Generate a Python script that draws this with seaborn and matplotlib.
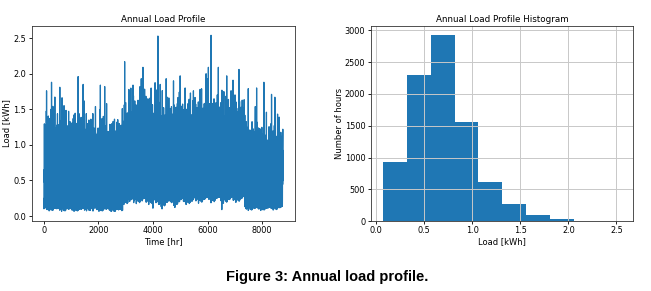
import numpy as np
import pandas as pd
import matplotlib
matplotlib.use("Agg")
import matplotlib.pyplot as plt
import seaborn as sns

# ---------------- data ----------------
# Left panel: hourly load built from envelope values read per time segment
seg_start = [0, 500, 1000, 1500, 2000, 2500, 2900, 3300, 3700, 4100, 4500, 5000,
             5500, 6000, 6500, 7000, 7350, 7800, 8300]
seg_low = [0.12, 0.11, 0.11, 0.12, 0.11, 0.10, 0.27, 0.29, 0.27, 0.22, 0.25, 0.27,
           0.30, 0.31, 0.30, 0.32, 0.13, 0.13, 0.14]
seg_high = [1.40, 1.42, 1.36, 1.34, 1.36, 1.36, 1.58, 1.64, 1.66, 1.60, 1.58, 1.60,
            1.64, 1.66, 1.64, 1.60, 1.28, 1.26, 1.22]
# typical shape of one day (0 = night minimum, 1 = evening peak)
day_shape = [0.12, 0.06, 0.03, 0.00, 0.03, 0.12, 0.32, 0.48, 0.42, 0.36, 0.34, 0.38,
             0.42, 0.40, 0.37, 0.42, 0.52, 0.68, 0.82, 1.00, 0.86, 0.64, 0.42, 0.24]
day_peak_factor = [0.82, 0.95, 0.70, 1.00, 0.86, 0.66, 0.93, 0.78, 0.98, 0.72, 0.90,
                   0.62, 0.88, 0.96, 0.75, 0.84, 1.00, 0.68, 0.92, 0.80, 0.97, 0.64,
                   0.87, 0.74, 0.94, 0.83, 0.70, 0.99, 0.79]
hour_jitter = [1.00, 0.86, 1.12, 0.95, 1.20, 0.84, 1.06, 0.92, 1.16, 0.88, 1.08,
               0.97, 1.22, 0.90, 1.03, 0.82, 1.13]
low_jitter = [1.00, 0.70, 1.20, 0.85, 1.35, 0.60, 1.10, 0.90, 1.25, 0.75, 1.05,
              0.65, 1.30, 0.95, 0.80, 1.15, 0.70, 1.20, 1.00]
# isolated peaks (hour, kWh)
spike_hours = [99, 281, 585, 1256, 1439, 2071, 2229, 2960, 3266, 3569, 3631, 4179,
               4263, 4482, 4750, 4994, 5176, 5480, 5724, 5944, 6028, 6126, 6393,
               6700, 7149, 7489, 7795, 8062, 8342, 8464, 8620]
spike_vals = [1.76, 1.88, 1.81, 1.96, 1.85, 1.84, 1.82, 2.17, 1.84, 1.93, 2.09, 2.53,
              1.85, 1.93, 1.90, 1.97, 1.80, 1.76, 1.78, 2.00, 2.09, 2.54, 2.09,
              1.97, 2.06, 1.79, 1.80, 1.88, 1.71, 1.67, 1.39]
# isolated low values (hour, kWh)
dip_hours = [1800, 2450, 3996, 4330, 4800, 6520, 8000]
dip_vals = [0.07, 0.07, 0.11, 0.10, 0.12, 0.09, 0.09]

# Right panel: histogram
bin_edges = [0.075, 0.3225, 0.57, 0.8175, 1.065, 1.3125, 1.56, 1.8075, 2.055,
             2.3025, 2.55]
bin_counts = [935, 2305, 2935, 1565, 615, 265, 100, 30, 7, 3]

# ---------------- build hourly series ----------------
n_hours = 8760
hours = np.arange(n_hours)
seg_idx = np.searchsorted(seg_start, hours, side="right") - 1
day = hours // 24
low = np.array(seg_low)[seg_idx] * np.array(low_jitter)[hours % len(low_jitter)]
high = np.array(seg_high)[seg_idx]
fac = np.array(day_peak_factor)[day % len(day_peak_factor)]
jit = np.array(hour_jitter)[hours % len(hour_jitter)]
shape = np.array(day_shape)[hours % 24]
load = low + shape * (high - low) * fac * jit
load[spike_hours] = spike_vals
load[dip_hours] = dip_vals
df = pd.DataFrame({"Time [hr]": hours, "Load [kWh]": load})

centers = [(bin_edges[i] + bin_edges[i + 1]) / 2 for i in range(len(bin_counts))]
hist_df = pd.DataFrame({"load": centers, "hours": bin_counts})

# ---------------- style ----------------
plt.rcParams.update({
    "font.family": ["DejaVu Sans"],
    "font.size": 6.0,
    "axes.linewidth": 0.6,
    "axes.edgecolor": "#333333",
    "xtick.major.width": 0.6,
    "ytick.major.width": 0.6,
    "xtick.major.size": 2.4,
    "ytick.major.size": 2.4,
    "xtick.major.pad": 1.2,
    "ytick.major.pad": 1.8,
    "axes.titlepad": 2.8,
})

fig = plt.figure(figsize=(6.51, 2.91), dpi=100)
ax1 = fig.add_axes([0.049, 0.2405, 0.404, 0.670])
ax2 = fig.add_axes([0.570, 0.2405, 0.402, 0.670])

blue = "#1f77b4"
sns.lineplot(data=df, x="Time [hr]", y="Load [kWh]", ax=ax1, color=blue,
             linewidth=0.9, estimator=None)
ax1.set_title("Annual Load Profile", fontsize=6.3)
ax1.set_xlabel("Time [hr]", fontsize=6.0)
ax1.set_ylabel("Load [kWh]", fontsize=6.0)
ax1.set_xticks([0, 2000, 4000, 6000, 8000])
ax1.set_yticks([0.0, 0.5, 1.0, 1.5, 2.0, 2.5])
ax1.set_xlim(-438, 9198)
ax1.set_ylim(-0.07, 2.67)
ax1.tick_params(labelsize=5.9)
ax1.yaxis.set_label_coords(-0.08, 0.5)
ax1.xaxis.set_label_coords(0.5, -0.085)

sns.histplot(data=hist_df, x="load", weights="hours", bins=bin_edges, ax=ax2,
             color=blue, alpha=1.0, edgecolor="none", linewidth=0)
ax2.grid(True, color="#c8c8c8", linewidth=0.7)
ax2.set_title("Annual Load Profile Histogram", fontsize=6.3)
ax2.set_xlabel("Load [kWh]", fontsize=6.0)
ax2.set_ylabel("Number of hours", fontsize=6.0)
ax2.set_xticks([0.0, 0.5, 1.0, 1.5, 2.0, 2.5])
ax2.set_yticks([0, 500, 1000, 1500, 2000, 2500, 3000])
ax2.set_xlim(-0.05, 2.67)
ax2.set_ylim(0, 3070)
ax2.tick_params(labelsize=5.9)
ax2.yaxis.set_label_coords(-0.103, 0.5)
ax2.xaxis.set_label_coords(0.5, -0.085)

fig.text(0.502, 0.048, "Figure 3: Annual load profile.", ha="center", va="center",
         fontsize=10.5, fontweight="bold", family=["Liberation Sans", "DejaVu Sans"])

fig.savefig("out.png", dpi=100)
